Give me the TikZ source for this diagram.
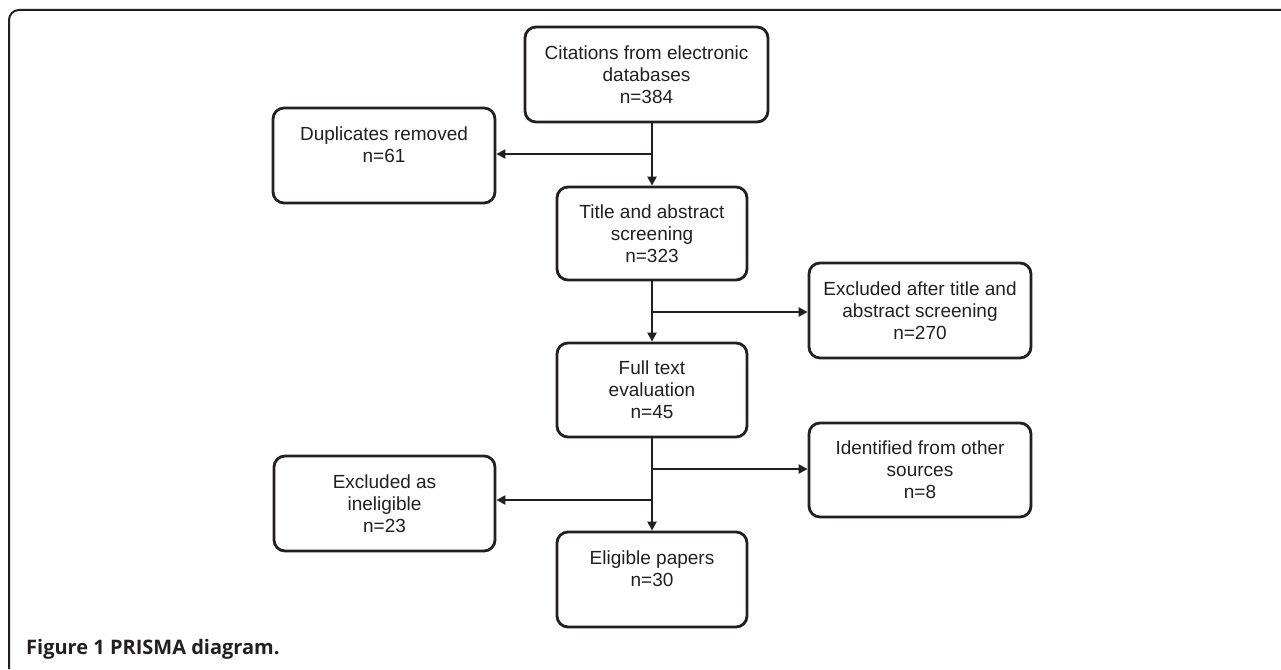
\documentclass[tikz,border=0pt]{standalone}
\usepackage{fontspec}
\setmainfont{Liberation Sans}
\newfontfamily\capfont{Open Sans}
\usetikzlibrary{arrows.meta}
\definecolor{ink}{RGB}{35,31,32}
\tikzset{
  box/.style={draw=ink, line width=2.8pt, rounded corners=11pt, align=center,
    text=ink, font=\fontsize{19}{22}\selectfont, inner sep=0pt},
  conn/.style={draw=ink, line width=2.6pt},
  arr/.style={conn, -{Triangle[length=9pt,width=9pt]}},
  frame/.style={draw=ink, line width=2pt, rounded corners=10pt}
}
\begin{document}
\begin{tikzpicture}[x=1pt,y=-1pt]
\useasboundingbox (0,0) rectangle (1281,669);
\fill[white] (0,0) rectangle (1281,669);
\draw[frame] (9,669) -- (9,10) -- (1281,10);

\node[box, minimum width=243pt, minimum height=95pt] (cit) at (646.5,74.5)
  {Citations from electronic\\databases\\n=384};
\node[box, minimum width=222pt, minimum height=95pt] (dup) at (384,155.5)
  {Duplicates removed\\n=61\\\mbox{}};
\node[box, minimum width=190pt, minimum height=93pt] (tas) at (652,233.5)
  {Title and abstract\\screening\\n=323};
\node[box, minimum width=222pt, minimum height=95pt] (exa) at (920,310.5)
  {Excluded after title and\\abstract screening\\n=270};
\node[box, minimum width=190pt, minimum height=94pt] (ful) at (652,390)
  {Full text\\evaluation\\n=45};
\node[box, minimum width=222pt, minimum height=94pt] (ide) at (920,470)
  {Identified from other\\sources\\n=8};
\node[box, minimum width=221pt, minimum height=95pt] (exi) at (384.5,503.5)
  {Excluded as\\ineligible\\n=23};
\node[box, minimum width=190pt, minimum height=95pt] (eli) at (652,579.5)
  {Eligible papers\\n=30\\\mbox{}};

\coordinate (j1) at (652,154);
\coordinate (j2) at (652,312);
\coordinate (j3) at (652,469);
\coordinate (j4) at (652,500);

\draw[arr] (cit.south -| tas.north) -- (tas.north);
\draw[arr] (j1) -- (j1 -| dup.east);
\draw[arr] (tas.south) -- (ful.north);
\draw[arr] (j2) -- (j2 -| exa.west);
\draw[arr] (ful.south) -- (eli.north);
\draw[arr] (j3) -- (j3 -| ide.west);
\draw[arr] (j4) -- (j4 -| exi.east);

\node[anchor=base west, inner sep=0pt, text=ink, font=\capfont\bfseries\fontsize{20}{24}\selectfont] (cap) at (26,654) {Figure 1 PRISMA diagram.};
\end{tikzpicture}
\end{document}
